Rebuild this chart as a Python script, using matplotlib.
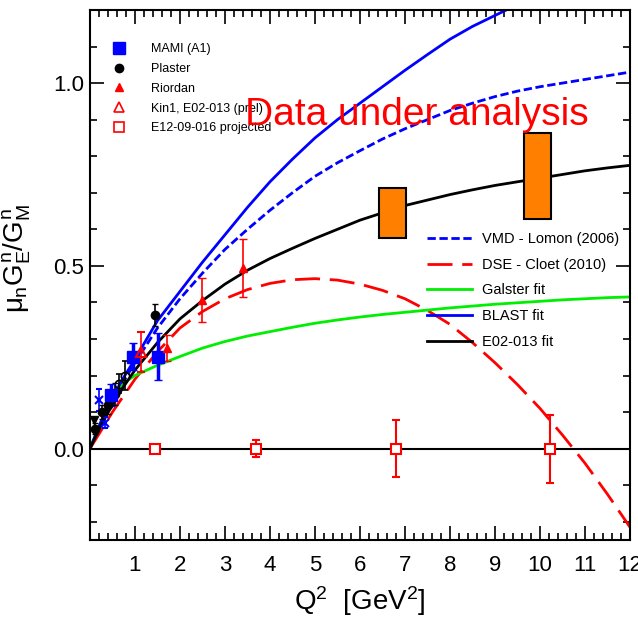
import numpy as np
import matplotlib.pyplot as plt
from matplotlib.lines import Line2D
from matplotlib import font_manager


# ============================================================
# 1. DATA - curves and measurements read off the figure
# ============================================================

# Q^2 grid (GeV^2) shared by all model curves
q2_curve = [0, 0.25, 0.5, 0.75, 1, 1.5, 2, 2.5, 3, 3.5, 4, 4.5, 5, 5.5, 6, 6.5,
            7, 7.5, 8, 8.5, 9, 9.5, 10, 10.5, 11, 11.5, 12]

vmd_lomon = [0, 0.07, 0.13, 0.185, 0.235, 0.33, 0.41, 0.48, 0.545, 0.60, 0.652, 0.70,
             0.745, 0.782, 0.815, 0.847, 0.875, 0.90, 0.925, 0.945, 0.963, 0.978,
             0.99, 1.0, 1.01, 1.02, 1.03]
dse_cloet = [0, 0.05, 0.10, 0.145, 0.19, 0.265, 0.33, 0.375, 0.41, 0.435, 0.452, 0.462,
             0.465, 0.461, 0.45, 0.433, 0.41, 0.378, 0.34, 0.29, 0.235, 0.175,
             0.11, 0.037, -0.04, -0.125, -0.215]
galster = [0, 0.075, 0.14, 0.18, 0.20, 0.228, 0.252, 0.275, 0.293, 0.308, 0.32, 0.332,
           0.343, 0.352, 0.36, 0.367, 0.373, 0.379, 0.385, 0.39, 0.395, 0.399,
           0.403, 0.407, 0.41, 0.413, 0.415]
blast = [0, 0.075, 0.14, 0.195, 0.245, 0.35, 0.43, 0.51, 0.585, 0.66, 0.73, 0.792,
         0.85, 0.90, 0.945, 0.99, 1.035, 1.078, 1.12, 1.155, 1.185, 1.215,
         1.24, 1.265, 1.29, 1.31, 1.33]
e02013_fit = [0, 0.065, 0.12, 0.17, 0.215, 0.29, 0.355, 0.405, 0.45, 0.488, 0.52, 0.548,
              0.575, 0.60, 0.625, 0.645, 0.665, 0.68, 0.695, 0.708, 0.72, 0.73,
              0.74, 0.75, 0.76, 0.768, 0.775]

# MAMI (A1)
mami_q2 = [0.47, 0.96, 1.51]
mami_r = [0.147, 0.252, 0.252]
mami_err = [0.03, 0.037, 0.065]

# Plaster
plaster_q2 = [0.12, 0.26, 0.40, 0.55, 1.45]
plaster_r = [0.055, 0.10, 0.12, 0.15, 0.366]
plaster_err = [0.015, 0.02, 0.025, 0.03, 0.03]

# Riordan
riordan_q2 = [1.72, 2.48, 3.40]
riordan_r = [0.276, 0.407, 0.494]
riordan_err = [0.035, 0.06, 0.08]

# Kin1, E02-013 (prel)
kin1_q2 = [1.13]
kin1_r = [0.265]
kin1_err = [0.055]

# other low-Q2 points (not in legend)
other_open_q2 = [0.65, 0.77]
other_open_r = [0.178, 0.20]
other_open_err = [0.025, 0.04]
star_q2 = [0.21, 0.33]
star_r = [0.134, 0.071]
star_err = [0.03, 0.015]
tri_down_q2 = [0.10]
tri_down_r = [0.079]

# E12-09-016 projected
proj_q2 = [1.44, 3.69, 6.80, 10.22]
proj_r = [0.0, 0.0, 0.0, 0.0]
proj_err = [0.0, 0.023, 0.078, 0.093]

# data under analysis (boxes)
box_q2 = [6.73, 9.95]
box_low = [0.577, 0.628]
box_high = [0.713, 0.863]


# ============================================================
# 2. FONTS
# ============================================================

names = {f.name for f in font_manager.fontManager.ttflist}
if "Liberation Sans Narrow" in names:
    narrow, fs_leg1, fs_leg2, fs_tick = "Liberation Sans Narrow", 11, 13, 17
else:
    narrow, fs_leg1, fs_leg2, fs_tick = "Liberation Sans", 9, 10.5, 16

plt.rcParams["font.family"] = ["Liberation Sans", "DejaVu Sans"]
plt.rcParams["mathtext.fontset"] = "custom"
plt.rcParams["mathtext.rm"] = "Liberation Sans"
plt.rcParams["mathtext.it"] = "Liberation Sans"


# ============================================================
# 3. PLOT
# ============================================================

fig = plt.figure(figsize=(6.38, 6.23), dpi=100)
ax = fig.add_axes([0.141, 0.1332, 0.8465, 0.8508])

ax.plot(q2_curve, vmd_lomon, color="blue", lw=2, dashes=(3, 1.3), label="VMD - Lomon (2006)")
ax.plot(q2_curve, dse_cloet, color="red", lw=2, dashes=(9, 3.5), label="DSE - Cloet (2010)")
ax.plot(q2_curve, galster, color="#00ee00", lw=2, label="Galster fit")
ax.plot(q2_curve, blast, color="blue", lw=2, label="BLAST fit")
ax.plot(q2_curve, e02013_fit, color="black", lw=2, label="E02-013 fit")

ax.axhline(0, color="black", lw=1.5, zorder=2)

heights = np.array(box_high) - np.array(box_low)
ax.bar(box_q2, heights, bottom=box_low, width=0.6, color="#ff8000",
       edgecolor="black", linewidth=1.5, zorder=3)

ax.errorbar(star_q2, star_r, yerr=star_err, fmt="x", color="blue", ms=6, mew=1.5,
            elinewidth=1.2, capsize=2, zorder=4)
ax.errorbar(other_open_q2, other_open_r, yerr=other_open_err, fmt="o", mfc="none",
            color="black", ms=6, mew=1.2, elinewidth=1.2, capsize=2.5, zorder=4)
ax.plot(tri_down_q2, tri_down_r, "v", color="black", ms=6, zorder=4)
ax.errorbar(plaster_q2, plaster_r, yerr=plaster_err, fmt="o", color="black", ms=6,
            elinewidth=1.2, capsize=2.5, zorder=5)
ax.errorbar(mami_q2, mami_r, yerr=mami_err, fmt="s", color="blue", ms=8,
            elinewidth=2.5, capsize=3, zorder=5)
ax.errorbar(riordan_q2, riordan_r, yerr=riordan_err, fmt="^", color="red", ms=6,
            elinewidth=1.2, capsize=3, zorder=5)
ax.errorbar(kin1_q2, kin1_r, yerr=kin1_err, fmt="^", color="red", mfc="none", ms=7,
            mew=1.5, elinewidth=1.2, capsize=3, zorder=5)
ax.errorbar(proj_q2, proj_r, yerr=proj_err, fmt="s", color="red", mfc="white", ms=7,
            mew=1.5, elinewidth=1.5, capsize=3, zorder=5)

ax.text(0.287, 0.783, "Data under analysis", transform=ax.transAxes, color="red",
        fontsize=28, ha="left", va="baseline", zorder=6)

# legend of the data sets (markers only)
data_handles = [
    Line2D([], [], ls="none", marker="s", color="blue", ms=9),
    Line2D([], [], ls="none", marker="o", color="black", ms=6),
    Line2D([], [], ls="none", marker="^", color="red", ms=6),
    Line2D([], [], ls="none", marker="^", color="red", mfc="none", mew=1.2, ms=7),
    Line2D([], [], ls="none", marker="s", color="red", mfc="none", mew=1.2, ms=7),
]
data_labels = ["MAMI (A1)", "Plaster", "Riordan", "Kin1, E02-013 (prel)",
               "E12-09-016 projected"]
leg1 = ax.legend(data_handles, data_labels, loc="upper left",
                 bbox_to_anchor=(0.03, 0.937), frameon=False, borderpad=0,
                 borderaxespad=0, handlelength=2.0, handletextpad=1.6,
                 labelspacing=0.62, prop={"family": narrow, "size": fs_leg1})
ax.add_artist(leg1)

# legend of the model curves
ax.legend(loc="upper left", bbox_to_anchor=(0.624, 0.581), frameon=False,
          borderpad=0, borderaxespad=0, handlelength=3.1, handletextpad=0.7,
          labelspacing=0.8, prop={"family": narrow, "size": fs_leg2})

ax.set_xlim(0, 12)
ax.set_ylim(-0.25, 1.2)
ax.set_xticks(np.arange(1, 13))
ax.set_xticks(np.arange(0, 12.01, 0.2), minor=True)
ax.set_yticks([0.0, 0.5, 1.0])
ax.set_yticks(np.arange(-0.2, 1.21, 0.1), minor=True)
ax.set_yticklabels(["0.0", "0.5", "1.0"])
ax.tick_params(which="both", direction="in", top=True, right=True, width=1.2)
ax.tick_params(which="major", length=10)
ax.tick_params(which="minor", length=5)
ax.tick_params(axis="x", pad=11)
ax.tick_params(axis="y", pad=4)
for lbl in ax.get_xticklabels() + ax.get_yticklabels():
    lbl.set_family(narrow)
    lbl.set_fontsize(fs_tick)
for s in ax.spines.values():
    s.set_linewidth(1.5)

ax.set_xlabel(r"Q$^{2}$  [GeV$^{2}$]", fontsize=20)
ax.set_ylabel(r"$\mu_{n}G_{E}^{n}/G_{M}^{n}$", fontsize=20)
ax.xaxis.set_label_coords(0.5, -0.083)
ax.yaxis.set_label_coords(-0.105, 0.53)

fig.savefig("out.png", dpi=100)
